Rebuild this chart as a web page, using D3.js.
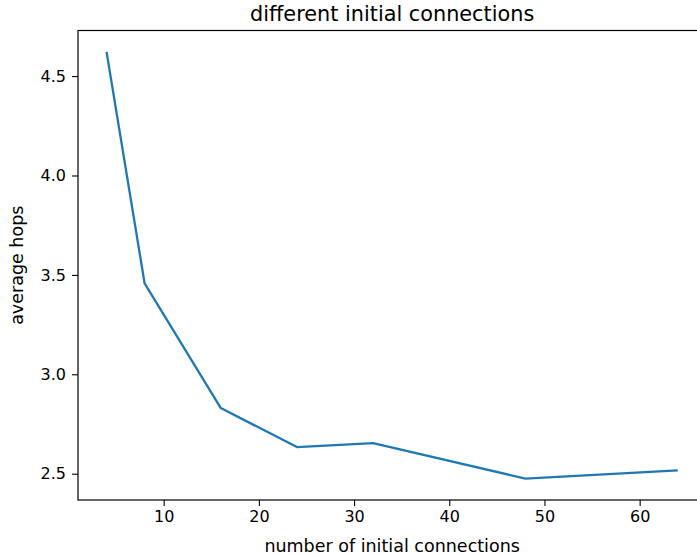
<!DOCTYPE html>
<html>
<head>
<meta charset="utf-8">
<script src="https://cdn.jsdelivr.net/npm/d3@7"></script>
<style>
  html, body { margin: 0; padding: 0; background: #fff; }
  svg { display: block; font-family: "DejaVu Sans", sans-serif; }
</style>
</head>
<body>
<svg id="chart" width="697" height="555"></svg>
<script>
// Average hop count measured for each number of initial connections
const connections = [4, 8, 16, 24, 32, 48, 64];
const avgHops = [4.622, 3.457, 2.830, 2.634, 2.654, 2.475, 2.517];
const xTicks = [10, 20, 30, 40, 50, 60];
const yTicks = [2.5, 3.0, 3.5, 4.0, 4.5];

const W = 697, H = 555;
const plot = { left: 78, top: 30.5, right: 706.3, bottom: 500 };

// 5% padding on each side of the data range
function padded(vals) {
  const [lo, hi] = d3.extent(vals);
  const m = (hi - lo) * 0.05;
  return [lo - m, hi + m];
}

const x = d3.scaleLinear().domain(padded(connections)).range([plot.left, plot.right]);
const y = d3.scaleLinear().domain(padded(avgHops)).range([plot.bottom, plot.top]);

const svg = d3.select("#chart");

// series line
const line = d3.line().x((d, i) => x(connections[i])).y(d => y(d));
svg.append("path")
  .datum(avgHops)
  .attr("d", line)
  .attr("fill", "none")
  .attr("stroke", "#1f77b4")
  .attr("stroke-width", 2.3)
  .attr("stroke-linejoin", "round")
  .attr("stroke-linecap", "butt");

// axes frame
svg.append("rect")
  .attr("x", plot.left).attr("y", plot.top)
  .attr("width", plot.right - plot.left).attr("height", plot.bottom - plot.top)
  .attr("fill", "none").attr("stroke", "#000").attr("stroke-width", 1.2);

const xAxis = svg.append("g")
  .attr("transform", `translate(0,${plot.bottom})`)
  .call(d3.axisBottom(x).tickValues(xTicks).tickFormat(d3.format("d")).tickSize(6).tickPadding(5));
const yAxis = svg.append("g")
  .attr("transform", `translate(${plot.left},0)`)
  .call(d3.axisLeft(y).tickValues(yTicks).tickFormat(d3.format(".1f")).tickSize(6).tickPadding(6));

[xAxis, yAxis].forEach(g => {
  g.select(".domain").remove();
  g.selectAll(".tick line").attr("stroke", "#000").attr("stroke-width", 1.1);
  g.selectAll(".tick text")
    .attr("fill", "#000")
    .style("font-family", "'DejaVu Sans', sans-serif")
    .style("font-size", "16px");
});

// title and axis labels
svg.append("text")
  .attr("x", (plot.left + plot.right) / 2).attr("y", 20.7)
  .attr("text-anchor", "middle")
  .style("font-size", "20.8px")
  .attr("fill", "#000")
  .text("different initial connections");

svg.append("text")
  .attr("x", (plot.left + plot.right) / 2).attr("y", 552)
  .attr("text-anchor", "middle")
  .style("font-size", "17.5px")
  .attr("fill", "#000")
  .text("number of initial connections");

svg.append("text")
  .attr("transform", `translate(23,${(plot.top + plot.bottom) / 2}) rotate(-90)`)
  .attr("text-anchor", "middle")
  .style("font-size", "17.5px")
  .attr("fill", "#000")
  .text("average hops");
</script>
</body>
</html>
